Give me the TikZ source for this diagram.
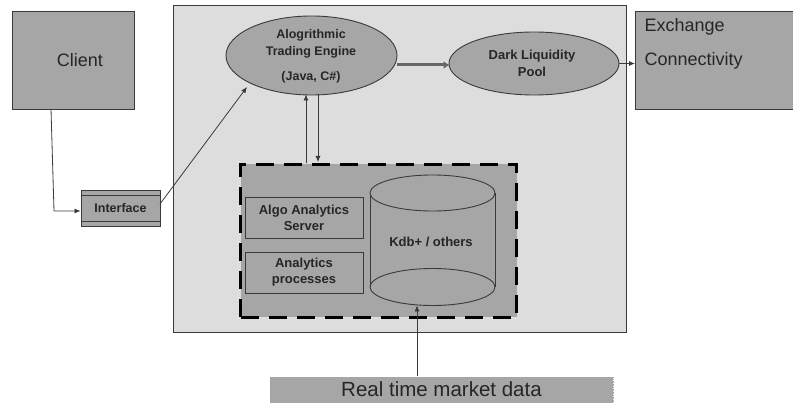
\documentclass[tikz,border=0pt]{standalone}
\usepackage{fontspec}
\setmainfont{Liberation Sans}
\usetikzlibrary{arrows.meta,shapes.geometric}
\definecolor{boxgray}{HTML}{A6A6A6}
\definecolor{panelgray}{HTML}{DDDDDD}
\definecolor{edge}{HTML}{3A3A3A}
\tikzset{
  graybox/.style={draw=edge, line width=0.9pt, fill=boxgray},
  ell/.style={ellipse, draw=edge, line width=0.9pt, fill=boxgray, inner sep=0pt},
  lbl/.style={font=\bfseries\fontsize{13}{16}\selectfont, text=black!85, align=center},
  conn/.style={draw=edge, line width=0.8pt, -{Latex[length=6pt,width=5pt]}},
}
\begin{document}
\begin{tikzpicture}[x=1pt,y=-1pt]
\useasboundingbox[fill=white] (0,0) rectangle (793,403);
% main panel
\node[draw=edge, line width=0.9pt, fill=panelgray, minimum width=453pt, minimum height=327pt, inner sep=0pt] (panel) at (399.5,168.5) {};
% client
\node[graybox, minimum width=122pt, minimum height=98pt, inner sep=0pt] (client) at (73,60) {};
\node[font=\fontsize{18}{20}\selectfont, text=black!85] (clienttxt) at (80,60) {Client};
% exchange
\node[graybox, minimum width=158pt, minimum height=98pt, inner sep=0pt, anchor=north west] (exch) at (635,11) {};
\node[font=\fontsize{18}{20}\selectfont, text=black!85, anchor=west] (exchtxt1) at (641,27) {Exchange};
\node[font=\fontsize{18}{20}\selectfont, text=black!85, anchor=west] (exchtxt2) at (641,61) {Connectivity};
% interface
\node[graybox, minimum width=79pt, minimum height=36pt, inner sep=0pt] (iface) at (120.5,208) {};
\draw[edge, line width=0.9pt] (81,195) -- (160,195);
\draw[edge, line width=0.9pt] (81,221) -- (160,221);
\node[lbl, font=\bfseries\fontsize{12.5}{14}\selectfont] (ifacetxt) at (120.5,208) {Interface};
% ATE
\node[ell, minimum width=171pt, minimum height=79pt] (ate) at (311.5,55.5) {};
\node[lbl, font=\bfseries\fontsize{12.5}{14}\selectfont] (ate1) at (311,35) {Alogrithmic};
\node[lbl, font=\bfseries\fontsize{12.5}{14}\selectfont] (ate2) at (311,52) {Trading Engine};
\node[lbl, font=\bfseries\fontsize{12.5}{14}\selectfont] (ate3) at (311,77) {(Java, C\#)};
% DLP
\node[ell, minimum width=170pt, minimum height=63pt] (dlp) at (534,63.5) {};
\node[lbl] (dlp1) at (532,56) {Dark Liquidity};
\node[lbl] (dlp2) at (532,72) {Pool};
% dashed box
\node[draw=black, line width=3pt, dash pattern=on 18pt off 10pt, fill=boxgray, minimum width=276pt, minimum height=153pt, inner sep=0pt, anchor=north west] (dbox) at (239,163) {};
% analytics boxes
\node[draw=edge, line width=0.9pt, fill=boxgray, minimum width=118pt, minimum height=41pt, inner sep=0pt] (aas) at (304,217.5) {};
\node[lbl] (aastxt) at (304,218) {Algo Analytics\\Server};
\node[draw=edge, line width=0.9pt, fill=boxgray, minimum width=118pt, minimum height=41pt, inner sep=0pt] (ap) at (304,272.5) {};
\node[lbl] (aptxt) at (304,272.5) {Analytics\\processes};
% cylinder
\coordinate (cyltop) at (432.5,193);
\coordinate (cylbot) at (432.5,287);
\fill[boxgray] (370,193) -- (370,287) arc[start angle=180,end angle=360,x radius=62.5pt,y radius=18.5pt] -- (495,193) -- cycle;
\draw[edge, line width=0.9pt, fill=boxgray] (cylbot) ellipse[x radius=62.5pt, y radius=18.5pt];
\draw[edge, line width=0.9pt] (370,193) -- (370,287);
\draw[edge, line width=0.9pt] (495,193) -- (495,287);
\draw[edge, line width=0.9pt, fill=boxgray] (cyltop) ellipse[x radius=62.5pt, y radius=18pt];
\node[lbl] (kdb) at (431,242) {Kdb+ / others};
\coordinate (cylbottom) at (417,305.5);
% real time market data
\node[draw=black!35, densely dotted, line width=0.6pt, fill=boxgray, minimum width=343pt, minimum height=26pt, inner sep=0pt] (rt) at (441.5,390) {};
\node[font=\fontsize{20.5}{22}\selectfont, text=black!85] (rttxt) at (441.5,389) {Real time market data};
% connectors
\coordinate (c1) at (51,109);
\coordinate (c2) at (54,211);
\draw[conn] (c1) -- (c2) -- (iface.west |- c2);
\coordinate (ifout) at (160,204);
\coordinate (atein) at (247,87);
\draw[conn] (ifout) -- (atein);
\coordinate (upbot) at (306,163);
\coordinate (uptop) at (306,94.5);
\draw[conn] (upbot) -- (uptop);
\coordinate (dntop) at (318,94);
\coordinate (dnbot) at (318,162);
\draw[conn] (dntop) -- (dnbot);
\draw[draw=black!60, line width=3pt, -{Latex[length=6pt,width=8pt]}, shorten >=-1pt] (ate.east |- 0,65) -- (dlp.west |- 0,65);
\draw[conn] (dlp.east) -- (exch.west |- dlp.east);
\coordinate (rtup) at (417,376.5);
\draw[conn] (rtup) -- (cylbottom);
\end{tikzpicture}
\end{document}
